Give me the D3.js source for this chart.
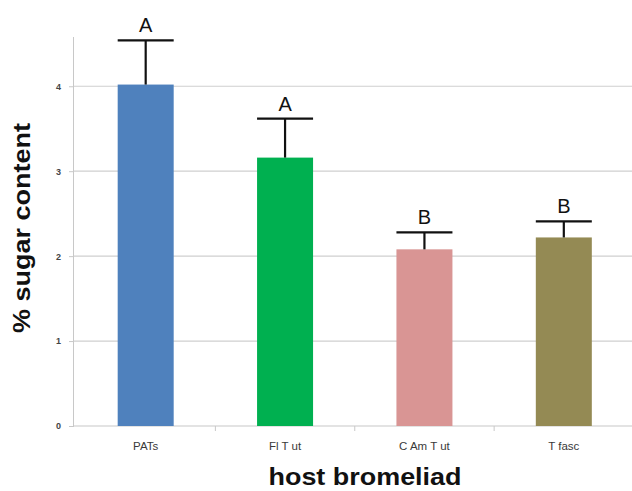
<!DOCTYPE html>
<html>
<head>
<meta charset="utf-8">
<script src="https://cdn.jsdelivr.net/npm/d3@7"></script>
<style>
  html, body { margin: 0; padding: 0; background: #fff; }
  svg { display: block; }
</style>
</head>
<body>
<svg id="chart" width="632" height="491"></svg>
<script>
// Host bromeliad categories and mean sugar content (%) with error bars
const categories = ["PATs", "Fl T ut", "C Am T ut", "T fasc"];
const means = [4.02, 3.16, 2.08, 2.22];
const errors = [0.52, 0.46, 0.20, 0.19];
const groupLetters = ["A", "A", "B", "B"];
const barColors = ["#4f81bd", "#00b050", "#d99594", "#948a54"];
const yTicks = [0, 1, 2, 3, 4];

const svg = d3.select("#chart");
const axisX = 74, plotTop = 37, plotBottom = 426, plotRight = 632;
const font = "Arial, 'Liberation Sans', sans-serif";

const y = d3.scaleLinear().domain([0, 4.58]).range([plotBottom, plotTop]);
const xOuter = d3.scaleBand().domain(categories).range([axisX + 2, plotRight + 1.5]);
const barW = 56;

// Horizontal gridlines
svg.append("g")
  .selectAll("line")
  .data(yTicks.filter(d => d > 0))
  .join("line")
  .attr("x1", axisX).attr("x2", plotRight)
  .attr("y1", d => y(d)).attr("y2", d => y(d))
  .attr("stroke", "#cfcfcf").attr("stroke-width", 1.2);

// Y axis
const yAxis = svg.append("g")
  .attr("transform", `translate(${axisX},0)`)
  .call(d3.axisLeft(y).tickValues(yTicks).tickSize(5).tickPadding(8).tickFormat(d3.format("d")));
yAxis.select(".domain").attr("stroke", "#c8c8c8").attr("d", `M-0.5,${plotBottom}V${plotTop}`);
yAxis.selectAll(".tick line").attr("stroke", "#c8c8c8");
yAxis.selectAll(".tick text")
  .attr("font-family", font)
  .attr("font-size", 9).attr("font-weight", "bold").attr("fill", "#444");

// X axis with ticks between categories
const xAxis = svg.append("g")
  .attr("transform", `translate(0,${plotBottom})`);
xAxis.append("line")
  .attr("x1", axisX).attr("x2", plotRight)
  .attr("stroke", "#c8c8c8").attr("stroke-width", 1.2);
xAxis.selectAll("line.sep")
  .data(categories.slice(1))
  .join("line").attr("class", "sep")
  .attr("x1", d => xOuter(d)).attr("x2", d => xOuter(d))
  .attr("y1", 0).attr("y2", 5)
  .attr("stroke", "#c8c8c8");
xAxis.selectAll("text")
  .data(categories)
  .join("text")
  .attr("x", d => xOuter(d) + xOuter.bandwidth() / 2)
  .attr("y", 24)
  .attr("text-anchor", "middle")
  .attr("font-family", font)
  .attr("font-size", 11.5).attr("fill", "#3a3a3a")
  .text(d => d);

// Bars
const rows = categories.map((c, i) => ({ c, m: means[i], e: errors[i], l: groupLetters[i], col: barColors[i] }));
const cx = d => xOuter(d.c) + xOuter.bandwidth() / 2;
svg.append("g").selectAll("rect")
  .data(rows).join("rect")
  .attr("x", d => cx(d) - barW / 2).attr("width", barW)
  .attr("y", d => y(d.m)).attr("height", d => y(0) - y(d.m))
  .attr("fill", d => d.col);

// Error bars (upper only)
const eb = svg.append("g").attr("stroke", "#111").attr("stroke-width", 2.2);
eb.selectAll("line.v").data(rows).join("line").attr("class", "v")
  .attr("x1", cx).attr("x2", cx)
  .attr("y1", d => y(d.m)).attr("y2", d => y(d.m + d.e));
eb.selectAll("line.cap").data(rows).join("line").attr("class", "cap")
  .attr("x1", d => cx(d) - barW / 2).attr("x2", d => cx(d) + barW / 2)
  .attr("y1", d => y(d.m + d.e)).attr("y2", d => y(d.m + d.e));

// Significance letters
svg.append("g").selectAll("text")
  .data(rows).join("text")
  .attr("x", cx)
  .attr("y", d => y(d.m + d.e) - 8)
  .attr("text-anchor", "middle")
  .attr("font-family", font)
  .attr("font-size", 20).attr("fill", "#111")
  .text(d => d.l);

// Axis titles
svg.append("text")
  .attr("transform", `translate(30,228) rotate(-90)`)
  .attr("text-anchor", "middle")
  .attr("font-family", font)
  .attr("font-size", 23).attr("font-weight", "bold").attr("fill", "#111")
  .attr("textLength", 210).attr("lengthAdjust", "spacingAndGlyphs")
  .text("% sugar content");

svg.append("text")
  .attr("x", 365).attr("y", 485)
  .attr("text-anchor", "middle")
  .attr("font-family", font)
  .attr("font-size", 24).attr("font-weight", "bold").attr("fill", "#111")
  .attr("textLength", 193).attr("lengthAdjust", "spacingAndGlyphs")
  .text("host bromeliad");
</script>
</body>
</html>
